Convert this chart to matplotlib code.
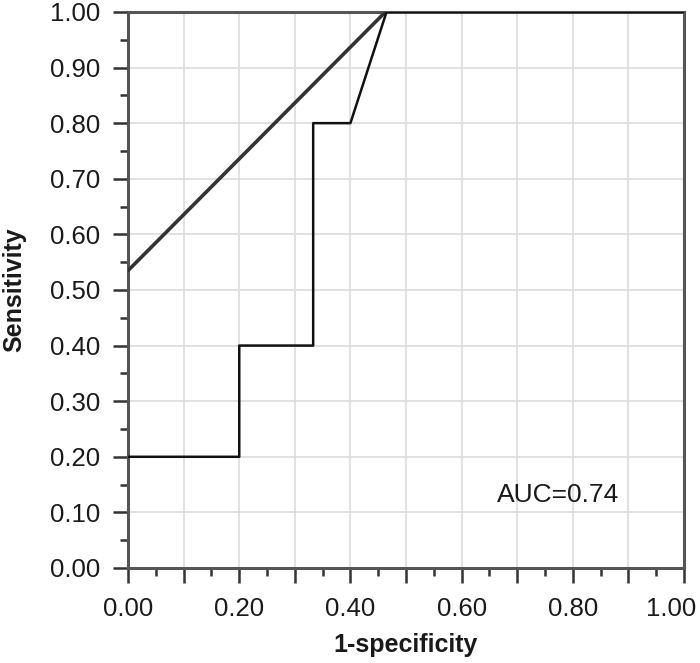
import numpy as np
import matplotlib.pyplot as plt
import matplotlib.transforms as mtransforms
from matplotlib.ticker import MultipleLocator

plt.rcParams['font.family'] = ['Liberation Sans', 'DejaVu Sans']

# ROC curve (step) and reference line
roc_fpr = [0.0, 0.2, 0.2, 0.333, 0.333, 0.4, 0.465, 1.0]
roc_tpr = [0.2, 0.2, 0.4, 0.4, 0.8, 0.8, 1.0, 1.0]
line_x = [0.0, 0.463]
line_y = [0.535, 1.0]
ticks = [0.0, 0.1, 0.2, 0.3, 0.4, 0.5, 0.6, 0.7, 0.8, 0.9, 1.0]
x_labels = ['0.00', '', '0.20', '', '0.40', '', '0.60', '', '0.80', '', '1.00']
y_labels = ['0.00', '0.10', '0.20', '0.30', '0.40', '0.50', '0.60', '0.70', '0.80', '0.90', '1.00']
auc_text = 'AUC=0.74'

fig = plt.figure(figsize=(7, 6.63), dpi=100)
ax = fig.add_axes([0.183, 0.1433, 0.794, 0.8387])

ax.plot(line_x, line_y, color='#333333', lw=2.6, solid_capstyle='round', zorder=3)
ax.plot(roc_fpr, roc_tpr, color='#111111', lw=1.8, zorder=3)

ax.set_xlim(0, 1)
ax.set_ylim(0, 1)

ax.set_xticks(ticks, x_labels)
ax.set_yticks(ticks, y_labels)
ax.xaxis.set_minor_locator(MultipleLocator(0.05))
ax.yaxis.set_minor_locator(MultipleLocator(0.05))

ax.grid(True, which='major', color='#dcdcdc', lw=1.2)
ax.set_axisbelow(True)

for s in ax.spines.values():
    s.set_color('#555555')
    s.set_linewidth(2.2)

ax.tick_params(which='major', direction='out', length=11, width=1.8, color='#333333',
               labelsize=18.5, labelcolor='#1a1a1a')
ax.tick_params(axis='y', which='major', pad=9)
ax.tick_params(axis='x', which='major', pad=10)
ax.tick_params(which='minor', direction='out', length=5.5, width=1.8, color='#333333')

# 最后一个x刻度标签向左挪一点，避免被裁掉
last = ax.get_xticklabels()[-1]
last.set_transform(last.get_transform() + mtransforms.ScaledTranslation(-13 / 100, 0, fig.dpi_scale_trans))

ax.set_xlabel('1-specificity', fontsize=18, fontweight='bold', color='#1a1a1a')
ax.set_ylabel('Sensitivity', fontsize=18, fontweight='bold', color='#1a1a1a')
ax.xaxis.set_label_coords(0.5, -0.117)
ax.yaxis.set_label_coords(-0.183, 0.5)

ax.text(0.664, 0.131, auc_text, fontsize=19, color='#1a1a1a', va='center', ha='left')

fig.savefig('out.png', dpi=100)
